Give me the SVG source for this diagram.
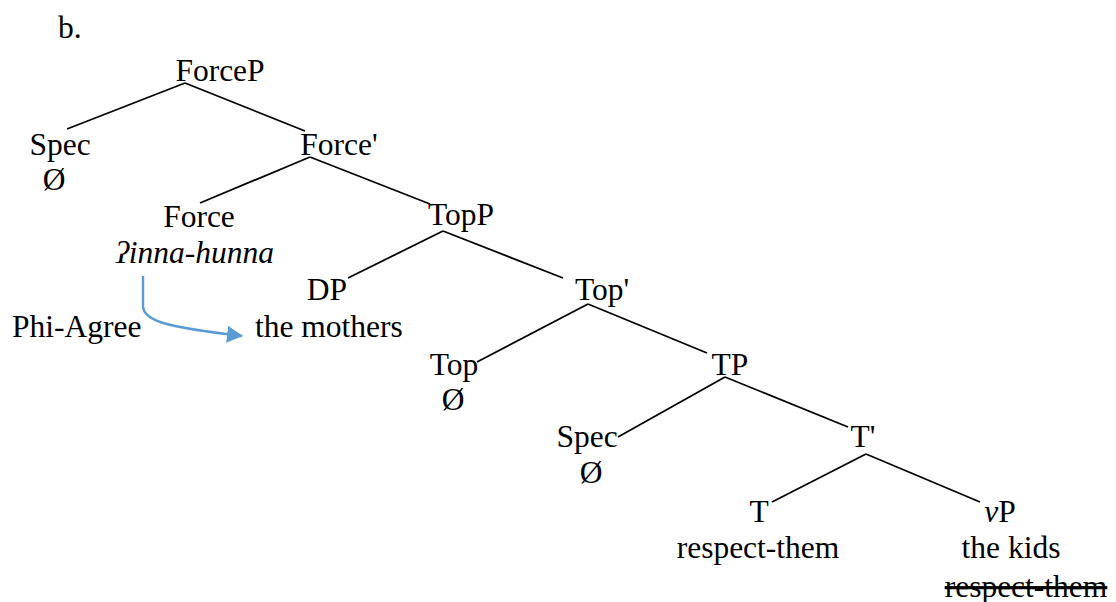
<svg xmlns="http://www.w3.org/2000/svg" width="1116" height="602" viewBox="0 0 1116 602">
<style>
text{font-family:"Liberation Serif","Times New Roman","DejaVu Serif",serif;font-size:31.5px;fill:#000}
.m{text-anchor:middle}
.edge{stroke:#000;stroke-width:1.8;fill:none}
.agree{stroke:#5B9BD5;stroke-width:2.4;fill:none}
</style>
<defs>
<marker id="ah" markerUnits="userSpaceOnUse" markerWidth="17" markerHeight="17" refX="15" refY="8.5" orient="auto">
<path d="M0,0 L16,8.5 L0,17 Z" fill="#5B9BD5"/>
</marker>
</defs>
<rect width="1116" height="602" fill="#fff"/>
<text x="58" y="38">b.</text>
<g id="connectors">
<line class="edge" x1="185" y1="83" x2="67" y2="129"/>
<line class="edge" x1="185" y1="83" x2="305" y2="131"/>
<line class="edge" x1="310" y1="157" x2="200" y2="203"/>
<line class="edge" x1="310" y1="157" x2="430" y2="204"/>
<line class="edge" x1="443" y1="231" x2="348" y2="278"/>
<line class="edge" x1="443" y1="231" x2="563" y2="278"/>
<line class="edge" x1="588" y1="304" x2="477" y2="362"/>
<line class="edge" x1="588" y1="304" x2="707" y2="353"/>
<line class="edge" x1="725" y1="377" x2="618" y2="437"/>
<line class="edge" x1="725" y1="377" x2="848" y2="427"/>
<line class="edge" x1="866" y1="454" x2="772" y2="502"/>
<line class="edge" x1="866" y1="454" x2="980" y2="502"/>
<path id="agree-arrow" class="agree" d="M143,276 L143,306 C143,321 166,327 242,336" marker-end="url(#ah)"/>
</g>
<g id="n-forcep"><text class="m" x="220" y="81">ForceP</text></g>
<g id="n-spec1"><text class="m" x="60" y="155">Spec</text><text class="m" x="54" y="190">Ø</text></g>
<g id="n-forcebar"><text class="m" x="339" y="155">Force'</text></g>
<g id="n-force"><text class="m" x="199" y="227">Force</text><text class="m" x="195" y="263" font-style="italic">ʔinna-hunna</text></g>
<g id="n-topp"><text class="m" x="461" y="225">TopP</text></g>
<g id="n-dp"><text class="m" x="327" y="300">DP</text><text x="255" y="337">the mothers</text></g>
<g id="n-phiagree"><text x="12" y="337">Phi-Agree</text></g>
<g id="n-topbar"><text class="m" x="602" y="300">Top'</text></g>
<g id="n-top"><text class="m" x="454" y="375">Top</text><text class="m" x="453" y="410">Ø</text></g>
<g id="n-tp"><text class="m" x="730" y="375">TP</text></g>
<g id="n-spec2"><text class="m" x="587" y="447">Spec</text><text class="m" x="591" y="483">Ø</text></g>
<g id="n-tbar"><text class="m" x="863" y="447">T'</text></g>
<g id="n-t"><text class="m" x="759" y="522">T</text><text class="m" x="758" y="558">respect-them</text></g>
<g id="n-vp"><text class="m" x="1000" y="522"><tspan font-style="italic">v</tspan>P</text><text class="m" x="1011" y="558">the kids</text><text class="m" x="1026" y="597" text-decoration="line-through">respect-them</text></g>
</svg>
